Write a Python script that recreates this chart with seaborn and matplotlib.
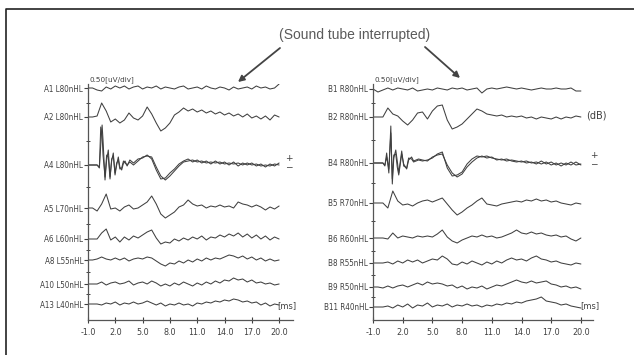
import numpy as np
import pandas as pd
import matplotlib
matplotlib.use("Agg")
import matplotlib.pyplot as plt
import seaborn as sns

# sampling time base (ms) for most traces
t_ms = np.arange(-1.0, 20.01, 0.5)
t_late = t_ms[t_ms >= 4.0]

# left ear (A) traces, amplitude in a.u.
a_names = ["A1 L80nHL", "A2 L80nHL", "A4 L80nHL", "A5 L70nHL",
           "A6 L60nHL", "A8 L55nHL", "A10 L50nHL", "A13 L40nHL"]
a1 = [0, 0, -2, -3, 1, -1, 2, 0, 2, -1, 1, 2, -1, 1, 0, 2, -1, 1, 0, -1, 1, 2,
      -1, 0, 1, -1, 2, 0, -1, 1, 0, -2, 1, -1, 0, 1, -1, 2, 0, 1, -1, 0, 4]
a2 = [0, 0, 1, 14, 6, -5, -2, -6, -3, 4, -1, -3, 1, 10, 3, -6, -14, -11, -6, 2,
      5, 9, 6, 8, 5, 7, 4, 6, 3, 5, 2, 4, 1, 3, 0, 3, -1, 1, -2, 1, -3, 2, 0]
a4_t_early = [-1.0, -0.5, 0.0, 0.25, 0.4, 0.55, 0.65, 0.87, 1.05, 1.23, 1.42,
              1.6, 1.78, 1.97, 2.15, 2.33, 2.5, 2.7, 2.9, 3.07, 3.3, 3.6]
a4_early = [0, 0, 0, -3, 20, 40, 25, -15, 5, 15, -12, 4, 12, -10, 0, 8, -2, -5,
            2, 4, -1, 5]
a4_late = [2, 6, 7, 10, 6, -5, -14, -13, -8, -4, 1, 4, 6, 3, 5, 2, 4, 1, 4, 1,
           3, 0, 3, -1, 2, 0, 2, -1, 1, -2, 1, -1, 2]
a4b_early = [0, 0, 0, -2, 38, 30, 10, -12, 10, 8, -14, 6, 9, -8, 2, 5, -4, -3,
             4, 2, 0, 3]
a4b_late = [0, 4, 8, 9, 8, -2, -11, -15, -11, -6, -1, 3, 4, 5, 3, 4, 2, 3, 2, 3,
            1, 2, 1, 2, 0, 2, 0, 1, -1, 0, -1, 1, 0]
a5 = [0, 0, -3, 4, 14, -1, 0, -3, 1, 3, -1, 0, 3, 6, 12, 4, -6, -10, -7, -4,
      1, 3, 8, 4, 2, 3, 0, 2, 1, 3, 1, 2, 0, 6, 4, 3, 1, 3, 1, -2, 1, -1, 2]
a6 = [0, 0, 0, 6, 10, -1, 2, -3, 2, -1, 3, 1, 4, 7, 9, 1, -5, -3, -4, 0,
      -2, 1, -1, 2, 0, 3, -1, 2, 1, 4, 2, 5, 3, 6, 2, 5, 1, 4, 0, 3, -1, 2, 0]
a8 = [0, 0, 1, 3, 1, 0, 2, 0, 2, -1, 1, 2, 1, 3, 2, -1, -4, -6, -3, -4,
      -1, -3, 0, -2, 1, -1, 2, 0, 2, 1, 3, 5, 4, 2, 4, 1, 3, 0, 2, -1, 1, -1, 0]
a10 = [0, 0, 0, 2, -1, 1, 2, 0, 1, 3, -1, 1, 2, 0, 3, 1, -2, 0, -2, 1,
       -1, 2, 0, -2, 1, -1, 2, 0, 3, 1, 4, 3, 6, 4, 5, 2, 4, 1, 2, 0, 1, -1, 0]
a13 = [0, 0, 0, -1, 1, 0, 2, -1, 1, 0, 2, 0, 1, 3, 1, -1, 1, -2, 0, -1,
       1, -1, 0, -2, 1, 0, 2, 1, 3, 2, 4, 3, 5, 4, 2, 3, 1, 2, -1, 1, -2, 0, -1]

# right ear (B) traces
b_names = ["B1 R80nHL", "B2 R80nHL", "B4 R80nHL", "B5 R70nHL",
           "B6 R60nHL", "B8 R55nHL", "B9 R50nHL", "B11 R40nHL"]
b1 = [0, -3, -1, 1, -1, 1, 0, -1, 1, -2, -1, 0, -1, 1, 0, -1, 1, 0, 1, -1,
      0, 1, -4, 0, 1, 0, 1, 2, 1, 0, 1, 0, -1, 0, 1, 0, 0, 1, 0, 0, 1, -2, -2]
b2 = [0, 0, 0, 9, 3, 1, -4, -8, -3, 4, 5, -2, 6, 11, 12, -3, -12, -10, -7, -2,
      3, 8, 6, 3, 2, 1, 2, 0, 1, 0, 1, -1, 0, -2, 0, -1, -2, 0, -2, 0, -1, 1, 0]
b4_t_early = [-1.0, -0.5, 0.0, 0.2, 0.38, 0.6, 0.8, 0.95, 1.1, 1.3, 1.45, 1.6,
              1.9, 2.1, 2.4, 2.6, 2.9, 3.1, 3.6]
b4_early = [0, 0, 0, -3, 10, -10, 37, -21, 5, 13, 2, -10, 12, -3, -5, 5, 4, 1, 3]
b4_late = [2, 3, 5, 9, 11, -5, -13, -12, -9, -1, 4, 7, 6, 7, 5, 4, 3, 4, 2, 1,
           2, 0, 1, -1, 2, -1, 1, -2, 0, -2, 1, -2, -1]
b4b_early = [0, 0, 0, -2, 6, -6, 30, -16, 8, 9, -4, -12, 9, -1, -6, 3, 6, 2, 4]
b4b_late = [3, 2, 6, 8, 9, -2, -10, -14, -11, -4, 1, 5, 7, 5, 6, 3, 4, 2, 3, 2,
            1, 2, 0, 1, -1, 1, -2, 0, -3, 0, -2, 1, -2]
b5 = [0, 0, 0, -5, 12, 2, -2, -1, -3, 0, 2, 3, 1, 3, 5, -1, -7, -12, -9, -5,
      -2, 2, 5, -1, -2, -3, -1, 0, 1, 2, 1, 3, 2, 4, 2, 3, 1, 2, 0, -1, -2, 0, -1]
b6 = [0, 0, 0, -1, 5, 0, 2, 1, 0, 2, 1, 2, 1, 4, 8, 1, -3, -5, -2, 0,
      2, 1, 3, 1, 2, 0, 1, 3, 5, 8, 5, 4, 6, 4, 5, 3, 2, 3, 1, 2, -1, -3, 0]
b8 = [0, 0, 0, 1, -1, 2, 0, 3, 1, 3, 0, 2, 4, 3, 7, 4, -1, -2, 1, -1,
      2, 0, -2, 1, -1, 2, 0, 3, 5, 3, 4, 2, 5, 7, 4, 3, 1, 2, 0, -1, -2, 0, -1]
b9 = [0, 0, -1, 1, -1, 1, 2, 0, 2, 4, 2, 5, 3, 4, 3, 1, 2, -1, 1, -2,
      0, -1, 1, -2, 0, 2, 1, 3, 5, 7, 5, 4, 6, 4, 5, 6, 3, 2, 0, 1, -1, 0, -2]
b11 = [0, 0, 0, 1, -1, 2, 0, 3, -1, 2, 1, 4, 0, 2, 1, 3, 0, 2, 1, 3,
       1, 2, 0, 2, 1, 3, 2, 4, 3, 5, 4, 6, 7, 8, 10, 6, 5, 4, 2, 3, 1, 0, -1]

x_ticks = [-1, 2, 5, 8, 11, 14, 17, 20]
x_tick_labels = ["-1.0", "2.0", "5.0", "8.0", "11.0", "14.0", "17.0", "20.0"]

# row baselines (pixels above the time axis) - layout only
a_rows = [232, 203, 155, 112, 81, 60, 36, 16]
b_rows = [231, 203, 157, 117, 82, 57, 33, 13]

INK = "#404040"


def build_frame(traces, rows):
    parts = []
    for (name, times, vals), base in zip(traces, rows):
        df = pd.DataFrame({"time_ms": times, "amp": vals, "trace": name})
        df["y"] = df["amp"] + base
        parts.append(df)
    return pd.concat(parts, ignore_index=True)


a_traces = [
    ("A1", t_ms, a1), ("A2", t_ms, a2),
    ("A4", list(a4_t_early) + list(t_late), a4_early + a4_late),
    ("A5", t_ms, a5), ("A6", t_ms, a6), ("A8", t_ms, a8),
    ("A10", t_ms, a10), ("A13", t_ms, a13),
]
a_rep = [("A4b", list(a4_t_early) + list(t_late), a4b_early + a4b_late)]
b_traces = [
    ("B1", t_ms, b1), ("B2", t_ms, b2),
    ("B4", list(b4_t_early) + list(t_late), b4_early + b4_late),
    ("B5", t_ms, b5), ("B6", t_ms, b6), ("B8", t_ms, b8),
    ("B9", t_ms, b9), ("B11", t_ms, b11),
]
b_rep = [("B4b", list(b4_t_early) + list(t_late), b4b_early + b4b_late)]

df_a = pd.concat([build_frame(a_traces, a_rows),
                  build_frame(a_rep, [a_rows[2]])], ignore_index=True)
df_b = pd.concat([build_frame(b_traces, b_rows),
                  build_frame(b_rep, [b_rows[2]])], ignore_index=True)

sns.set_style("white")
plt.rcParams["font.family"] = ["DejaVu Sans"]

W, H = 634, 355
fig = plt.figure(figsize=(W / 100, H / 100), dpi=100)


def px_rect(x0, y0, x1, y1):
    return [x0 / W, 1 - y1 / H, (x1 - x0) / W, (y1 - y0) / H]


# overlay in pixel coordinates for frame, caption and arrows
ov = fig.add_axes([0, 0, 1, 1])
ov.set_xlim(0, W)
ov.set_ylim(H, 0)
ov.axis("off")

ax_l = fig.add_axes(px_rect(88, 84, 293, 320))
ax_r = fig.add_axes(px_rect(373, 84, 593, 320))

for ax, df, names, rows, xmax in [(ax_l, df_a, a_names, a_rows, -1 + 205 / 9.1),
                                  (ax_r, df_b, b_names, b_rows, -1 + 220 / 9.9)]:
    ax.patch.set_alpha(0)
    sns.lineplot(data=df, x="time_ms", y="y", units="trace", estimator=None,
                 color=INK, linewidth=0.75, ax=ax, legend=False)
    ax.set_xlim(-1, xmax)
    ax.set_ylim(0, 236)
    ax.set_xlabel("")
    ax.set_ylabel("")
    ax.set_xticks(x_ticks)
    ax.set_xticklabels(x_tick_labels)
    ax.set_yticks(rows)
    ax.set_yticklabels(names)
    mids = [(rows[i] + rows[i + 1]) / 2 for i in range(len(rows) - 1)]
    ax.set_yticks(mids, minor=True)
    ax.tick_params(axis="x", direction="inout", length=4, width=0.8, pad=4,
                   labelsize=5.8, colors=INK, bottom=True)
    ax.tick_params(axis="y", which="major", direction="out", length=3,
                   width=0.8, pad=0.5, labelsize=5.8, colors=INK, left=True)
    ax.tick_params(axis="y", which="minor", direction="inout", length=3,
                   width=0.7, colors=INK, left=True)
    for label in ax.get_yticklabels():
        label.set_fontstretch("condensed")
    for side in ["top", "right"]:
        ax.spines[side].set_visible(False)
    for side in ["left", "bottom"]:
        ax.spines[side].set_color("#555555")
        ax.spines[side].set_linewidth(0.9)
    ax.text(20.9, 14, "[ms]", ha="center", va="center", fontsize=6, color=INK)
    ax.text(-0.8, 240, "0.50[uV/div]", ha="left", va="center", fontsize=5.2,
            color=INK, clip_on=False)

# frame lines of the scanned page
ov.plot([6, 6, W], [H, 9, 9], color="#222222", lw=1.2)

ov.text(355, 35, "(Sound tube interrupted)", ha="center", va="center",
        fontsize=10, family="Liberation Sans", color="#5a5a5a")
arrow = dict(arrowstyle="-|>", color="#444444", lw=1.3, mutation_scale=9,
             shrinkA=0, shrinkB=0)
ov.annotate("", xy=(238, 82), xytext=(280, 48), arrowprops=arrow)
ov.annotate("", xy=(460, 78), xytext=(425, 47), arrowprops=arrow)

ov.text(596, 116, "(dB)", ha="center", va="center", fontsize=7, color=INK)
ov.text(289, 163, "+\n\u2212", ha="center", va="center", fontsize=6.5,
        color=INK, linespacing=0.9)
ov.text(594, 160, "+\n\u2212", ha="center", va="center", fontsize=6.5,
        color=INK, linespacing=0.9)

fig.savefig("out.png", dpi=100)
